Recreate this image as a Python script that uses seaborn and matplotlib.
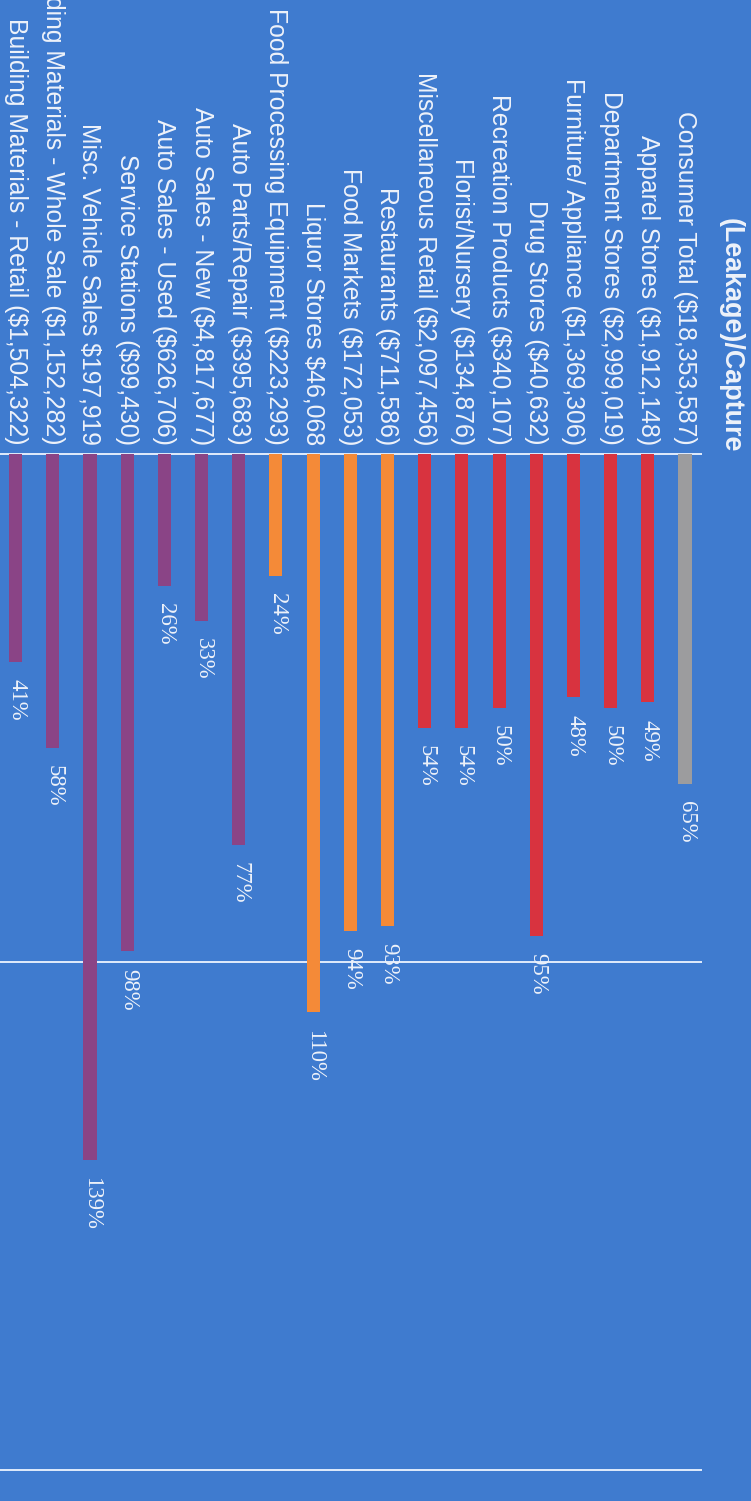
import matplotlib
matplotlib.use("Agg")
import matplotlib.pyplot as plt
import seaborn as sns
import pandas as pd

# Retail categories with their leakage / capture dollar amounts
categories = [
    "Consumer Total ($18,353,587)",
    "Apparel Stores ($1,912,148)",
    "Department Stores ($2,999,019)",
    "Furniture/ Appliance ($1,369,306)",
    "Drug Stores ($40,632)",
    "Recreation Products ($340,107)",
    "Florist/Nursery ($134,876)",
    "Miscellaneous Retail ($2,097,456)",
    "Restaurants ($711,586)",
    "Food Markets ($172,053)",
    "Liquor Stores $46,068",
    "Food Processing Equipment ($223,293)",
    "Auto Parts/Repair ($395,683)",
    "Auto Sales - New ($4,817,677)",
    "Auto Sales - Used ($626,706)",
    "Service Stations ($99,430)",
    "Misc. Vehicle Sales $197,919",
    "Building Materials - Whole Sale ($1,152,282)",
    "Building Materials - Retail ($1,504,322)",
]
# Capture rate, percent
capture_pct = [65, 49, 50, 48, 95, 50, 54, 54, 93, 94, 110, 24,
               77, 33, 26, 98, 139, 58, 41]
# Sector group of each category (drives bar colour)
groups = ["total"] + ["retail"] * 7 + ["food"] * 4 + ["auto"] * 7
group_colors = {"total": "#9c9c9e", "retail": "#d8333f",
                "food": "#f48a38", "auto": "#8a4486"}
gridline_pct = [0, 100, 200]
title = "(Leakage)/Capture"

df = pd.DataFrame({"category": categories, "pct": capture_pct, "group": groups})

BG = "#3f7bcf"
TXT = "#eef2fa"

sns.set_theme(style="white")
plt.rcParams["font.family"] = ["Liberation Sans", "DejaVu Sans"]

fig = plt.figure(figsize=(7.51, 15.01), dpi=100, facecolor=BG)
ax = fig.add_axes([0, 0, 1, 1])
ax.set_facecolor(BG)

# Reference lines at 0 %, 100 % and 200 %
ax.hlines(gridline_pct, xmin=-0.46, xmax=19.0, colors="#eef4ff",
          linewidth=1.3, zorder=1)

sns.barplot(data=df, x="category", y="pct", hue="group",
            palette=group_colors, order=categories, dodge=False,
            width=0.35, saturation=1, linewidth=0, legend=False,
            ax=ax, zorder=2)

# Chart reads top-to-bottom: categories run right-to-left, values grow downward
ax.set_xlim(18.42, -1.775)
ax.set_ylim(206.2, -89.3)
ax.axis("off")

for i, (name, v) in enumerate(zip(categories, capture_pct)):
    ax.text(i, -1.7, name, rotation=-90, rotation_mode="anchor",
            ha="right", va="center", fontsize=17.8, color=TXT,
            family=["Liberation Sans", "DejaVu Sans"], zorder=3)
    ax.text(i - 0.04, v + 3.4, f"{v}%", rotation=-90, rotation_mode="anchor",
            ha="left", va="center", fontsize=16.4, color=TXT,
            family=["Liberation Serif", "DejaVu Serif"], zorder=3)

ax.text(-1.22, -0.3, title, rotation=-90, rotation_mode="anchor",
        ha="right", va="center", fontsize=19.4, fontweight="bold",
        color=TXT, family=["Liberation Sans", "DejaVu Sans"], zorder=3)

fig.savefig("out.png", dpi=100, facecolor=BG)
